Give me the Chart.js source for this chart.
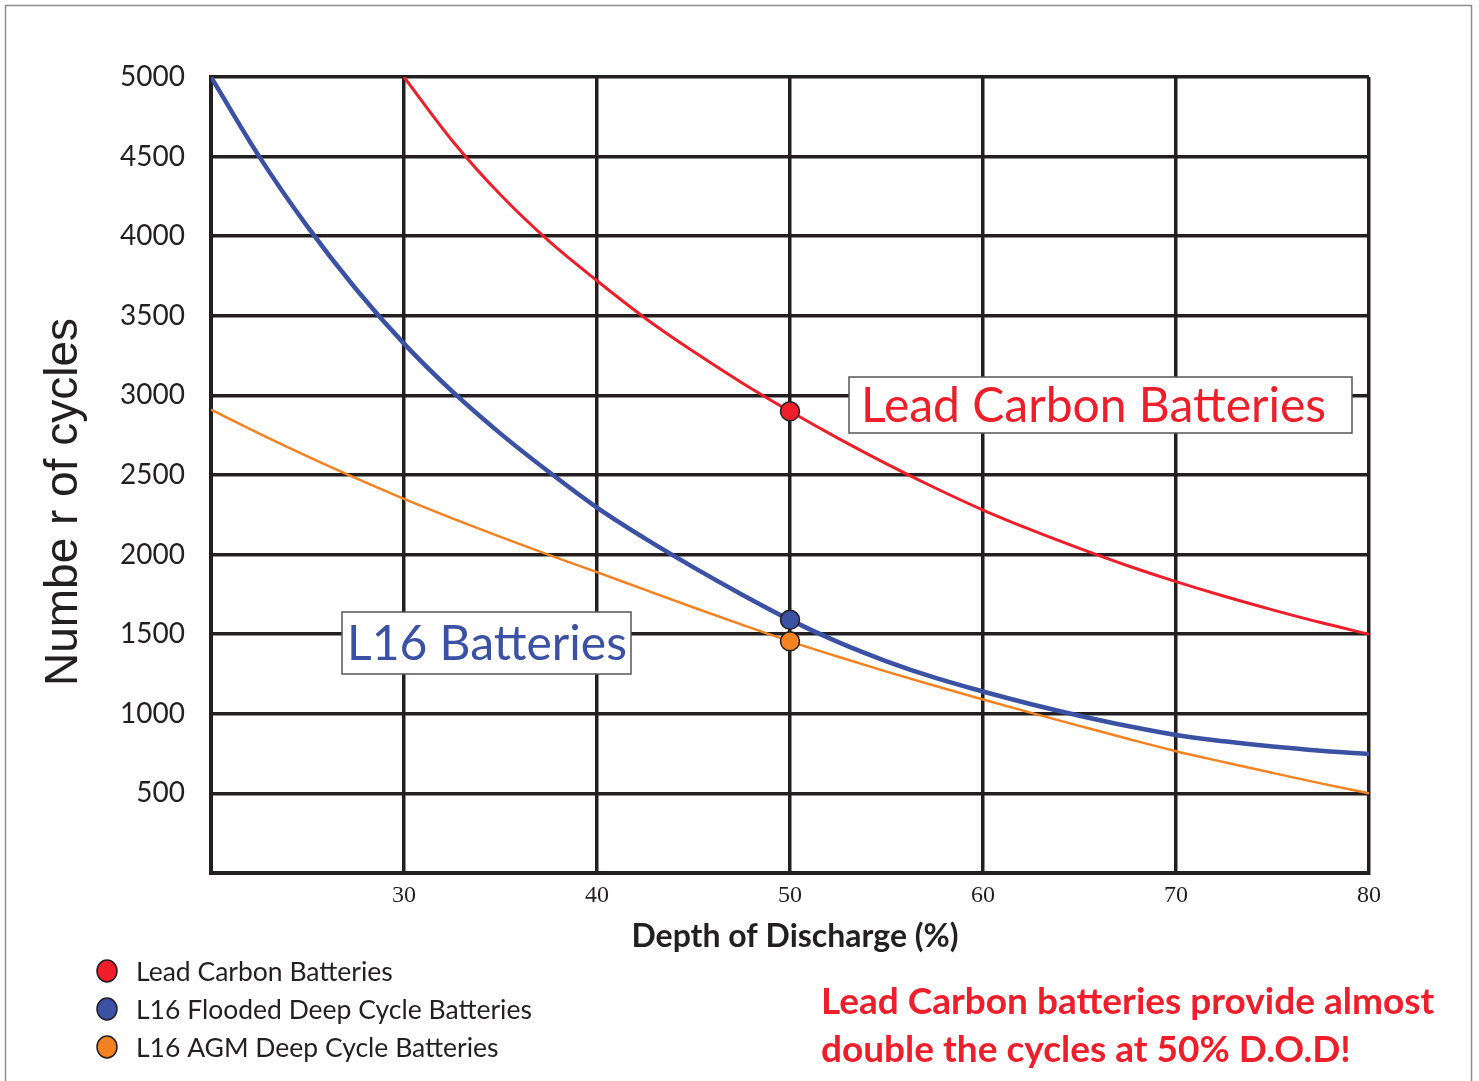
<!DOCTYPE html>
<html>
<head>
<meta charset="utf-8">
<title>Depth of Discharge vs cycles</title>
<script src="https://cdn.jsdelivr.net/npm/chart.js@4/dist/chart.umd.min.js"></script>
<style>
    html, body { margin: 0; padding: 0; background: #fff; }
    #chart { display: block; }
</style>
</head>
<body>
<canvas id="chart" width="1479" height="1081"></canvas>
<script>
// depth of discharge (%) where the curves were read
var dod = [20, 22.5, 25, 27.5, 30, 32.5, 35, 37.5, 40, 42.5, 45, 47.5, 50,
           52.5, 55, 57.5, 60, 62.5, 65, 67.5, 70, 72.5, 75, 77.5, 80];
// number of cycles for each battery type
var leadCarbon = [null, null, null, null, 5000, 4600, 4260, 3970, 3720, 3485, 3275, 3080, 2900,
                  2730, 2570, 2420, 2280, 2155, 2039, 1930, 1830, 1738, 1653, 1573, 1500];
var l16Flooded = [5000, 4500, 4060, 3670, 3325, 3025, 2760, 2520, 2295, 2100, 1920, 1750, 1590,
                  1450, 1330, 1227, 1140, 1060, 988, 923, 867, 827, 794, 768, 748];
var l16Agm = [2910, 2760, 2617, 2480, 2350, 2228, 2111, 1998, 1890, 1778, 1668, 1560, 1455,
              1358, 1265, 1176, 1090, 1006, 924, 843, 765, 696, 629, 563, 500];
// series names and colours
var seriesNames = ['Lead Carbon Batteries', 'L16 Flooded Deep Cycle Batteries', 'L16 AGM Deep Cycle Batteries'];
var seriesColors = ['#ee1f2a', '#3b51a3', '#f58220'];
// depth where the dots are drawn
var markedDod = 50;

var ink = '#231f20';

// turn the two arrays into {x, y} points, skipping empty values
function toPoints(xs, ys) {
    var points = [];
    for (var i = 0; i < xs.length; i++) {
        if (ys[i] !== null) {
            points.push({ x: xs[i], y: ys[i] });
        }
    }
    return points;
}

function makeDataset(index, values, width) {
    return {
        label: seriesNames[index],
        data: toPoints(dod, values),
        borderColor: seriesColors[index],
        backgroundColor: seriesColors[index],
        borderWidth: width,
        cubicInterpolationMode: 'monotone',
        pointRadius: function(c) { return c.raw && c.raw.x === markedDod ? 9.5 : 0; },
        pointBorderColor: ink,
        pointBorderWidth: 1.5,
        pointBackgroundColor: seriesColors[index]
    };
}

// draws frame, titles, label boxes, legend and the note
var extras = {
    id: 'extras',
    beforeDraw: function(chart) {
        var ctx = chart.ctx;
        ctx.save();
        ctx.fillStyle = '#fff';
        ctx.fillRect(0, 0, chart.width, chart.height);
        ctx.strokeStyle = '#8c8c8c';
        ctx.lineWidth = 1.5;
        ctx.strokeRect(5.5, 5.5, 1466, 1095);
        ctx.restore();
    },
    afterDraw: function(chart) {
        var ctx = chart.ctx;
        var area = chart.chartArea;
        ctx.save();

        // y axis title
        ctx.save();
        ctx.translate(64, 502);
        ctx.rotate(-Math.PI / 2);
        ctx.fillStyle = ink;
        ctx.font = '46px "Liberation Sans", Arial, sans-serif';
        ctx.textAlign = 'center';
        ctx.textBaseline = 'middle';
        ctx.fillText('Numbe r of cycles', 0, 0);
        ctx.restore();

        // x axis title
        ctx.fillStyle = ink;
        ctx.font = 'bold 32px Lato, sans-serif';
        ctx.textAlign = 'center';
        ctx.textBaseline = 'middle';
        ctx.fillText('Depth of Discharge (%)', (area.left + area.right) / 2 + 5, 937);

        // label boxes on the plot
        drawLabelBox(ctx, 'Lead Carbon Batteries', seriesColors[0], 849, 377, 503, 56, 12);
        drawLabelBox(ctx, 'L16 Batteries', seriesColors[1], 342, 612, 289, 62, 5);

        // legend
        ctx.textAlign = 'left';
        ctx.textBaseline = 'middle';
        ctx.font = '26.5px Lato, sans-serif';
        for (var i = 0; i < seriesNames.length; i++) {
            var y = 971 + i * 38;
            ctx.beginPath();
            ctx.ellipse(107, y, 10, 11, 0, 0, Math.PI * 2);
            ctx.fillStyle = seriesColors[i];
            ctx.fill();
            ctx.lineWidth = 1.5;
            ctx.strokeStyle = ink;
            ctx.stroke();
            ctx.fillStyle = ink;
            ctx.fillText(seriesNames[i], 136, y + 1);
        }

        // note at the bottom right
        ctx.fillStyle = seriesColors[0];
        ctx.font = 'bold 37px Lato, sans-serif';
        ctx.fillText('Lead Carbon batteries provide almost', 821, 1002);
        ctx.fillText('double the cycles at 50% D.O.D!', 821, 1050);

        ctx.restore();
    }
};

function drawLabelBox(ctx, text, color, x, y, w, h, indent) {
    ctx.fillStyle = '#fff';
    ctx.fillRect(x, y, w, h);
    ctx.strokeStyle = '#555';
    ctx.lineWidth = 1.5;
    ctx.strokeRect(x, y, w, h);
    ctx.fillStyle = color;
    ctx.font = '48px Lato, sans-serif';
    ctx.textAlign = 'left';
    ctx.textBaseline = 'middle';
    ctx.fillText(text, x + indent, y + h / 2 + 2);
}

var ctx = document.getElementById('chart').getContext('2d');
var chart = new Chart(ctx, {
    type: 'line',
    data: {
        datasets: [
            makeDataset(0, leadCarbon, 3),
            makeDataset(1, l16Flooded, 4.5),
            makeDataset(2, l16Agm, 2.5)
        ]
    },
    options: {
        responsive: false,
        animation: false,
        events: [],
        layout: { padding: { top: 77, right: 110, bottom: 0, left: 0 } },
        plugins: {
            legend: { display: false },
            tooltip: { enabled: false }
        },
        scales: {
            x: {
                type: 'linear',
                min: 20,
                max: 80,
                afterFit: function(s) { s.height = 208; },
                grid: { color: ink, lineWidth: 3.5, drawTicks: false },
                border: { display: true, color: ink, width: 4 },
                ticks: {
                    stepSize: 10,
                    padding: 8,
                    color: ink,
                    font: { family: '"Liberation Serif", "Times New Roman", serif', size: 24 },
                    callback: function(v) { return v === 20 ? '' : v; }
                }
            },
            y: {
                min: 0,
                max: 5000,
                afterFit: function(s) { s.width = 211; },
                grid: { color: ink, lineWidth: 3.5, drawTicks: false },
                border: { display: true, color: ink, width: 4 },
                ticks: {
                    stepSize: 500,
                    padding: 26,
                    color: ink,
                    font: { family: 'Lato, sans-serif', size: 28 },
                    callback: function(v) { return v === 0 ? '' : v; }
                }
            }
        }
    },
    plugins: [extras]
});
</script>
</body>
</html>
